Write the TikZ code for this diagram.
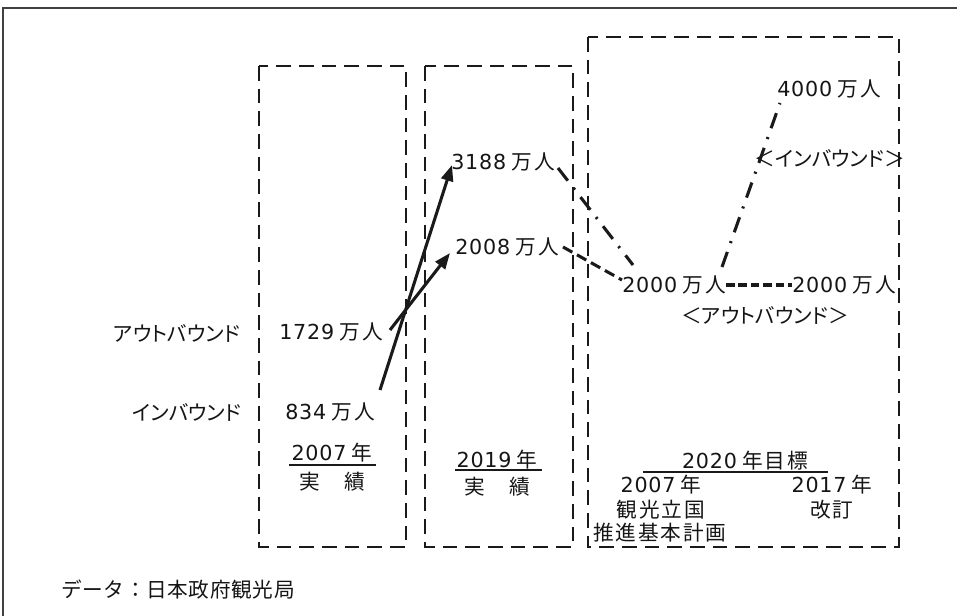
\documentclass[tikz,border=0pt]{standalone}
\usepackage{fontspec}
\setmainfont{Noto Sans CJK JP}[RawFeature=+palt]
\newfontfamily\jk{Noto Sans CJK JP}[LetterSpace=9]
\newfontfamily\jf{Noto Sans CJK JP}[LetterSpace=3]
\newfontfamily\dv{DejaVu Sans}[LetterSpace=4]
\usetikzlibrary{arrows.meta}
\newcommand\nm[1]{{\dv #1}\hspace{0.25em}}
\definecolor{ink}{HTML}{1A1A1A}
\definecolor{txtc}{HTML}{151515}
\tikzset{
  lbl/.style={inner sep=0pt, text=txtc, font=\fontsize{15.5}{18}\selectfont},
  dbox/.style={draw=ink, line width=1.6pt, dash pattern=on 11pt off 6pt},
  solidarrow/.style={draw=ink, line width=2.3pt, -{Triangle[length=12pt,width=9pt]}},
  dashdot/.style={draw=ink, line width=2.3pt, dash pattern=on 12pt off 7pt on 1.6pt off 7pt},
  dashline/.style={draw=ink, line width=2.3pt, dash pattern=on 8pt off 4pt},
  shortdash/.style={draw=ink, line width=2.3pt, dash pattern=on 6.5pt off 2.8pt},
  uline/.style={draw=ink, line width=1.6pt}
}
\begin{document}
\begin{tikzpicture}[x=0.75pt,y=-0.75pt]
\useasboundingbox (0,0) rectangle (957,615);
\clip (0,0) rectangle (957,615);
% outer frame (cropped at right and bottom)
\draw[gray!50!black, line width=1.1pt] (3,8) rectangle (1000,700);

% dashed boxes
\draw[dbox] (259,66) rectangle (406,547);
\draw[dbox] (425,66) rectangle (573,547);
\draw[dbox] (588,37) rectangle (899,547);

% left labels
\node[lbl] (outl) at (177,333) {アウトバウンド};
\node[lbl] (inl) at (187,412) {インバウンド};

% 2007
\node[lbl] (o07) at (331,332) {\nm{1729}{\jk 万人}};
\node[lbl] (i07) at (330,412) {\nm{834}{\jk 万人}};
\node[lbl] (y07) at (332,453) {\nm{2007}年};
\node[lbl] (r07) at (332,482) {{\jk 実　績}};
\draw[uline] (289,465) -- (376,465);

% 2019
\node[lbl] (i19) at (503,162) {\nm{3188}{\jk 万人}};
\node[lbl] (o19) at (507,247) {\nm{2008}{\jk 万人}};
\node[lbl] (y19) at (497,460) {\nm{2019}年};
\node[lbl] (r19) at (497,487) {{\jk 実　績}};
\draw[uline] (455,470) -- (542,470);

% 2020 targets
\node[lbl] (o20a) at (674,285) {\nm{2000}{\jk 万人}};
\node[lbl] (o20b) at (844,285) {\nm{2000}{\jk 万人}};
\node[lbl] (outb) at (765,315) {＜アウトバウンド＞};
\node[lbl] (i20) at (829,89) {\nm{4000}{\jk 万人}};
\node[lbl] (inb) at (830,158) {＜インバウンド＞};

\node[lbl] (goal) at (745,461) {\nm{2020}{\jk 年目標}};
\draw[uline] (643,472) -- (828,472);
\node[lbl] (p07) at (661,485) {\nm{2007}年};
\node[lbl] (p07a) at (661,510) {{\jk 観光立国}};
\node[lbl] (p07b) at (660,533) {{\jk 推進基本計画}};
\node[lbl] (p17) at (832,485) {\nm{2017}年};
\node[lbl] (p17a) at (832,510) {{\jk 改訂}};

% footer
\node[lbl] (src) at (178,590) {{\jf データ：日本政府観光局}};

% connectors
\coordinate (iStart) at (380,390);
\coordinate (oStart) at (390,330);
\coordinate (iTip) at (452,165);
\coordinate (oTip) at (450,253);
\draw[solidarrow] (iStart) -- (iTip);
\draw[solidarrow] (oStart) -- (oTip);

\coordinate (a1) at (558,168);
\coordinate (a2) at (633,265);
\draw[dashdot] (a1) -- (a2);
\coordinate (b1) at (563,247);
\coordinate (b2) at (622,280);
\draw[dashline] (b1) -- (b2);
\draw[shortdash] (o20a.east) -- (o20b.west);
\coordinate (c1) at (722,267);
\coordinate (c2) at (780,103);
\draw[dashdot] (c1) -- (c2);
\end{tikzpicture}
\end{document}
